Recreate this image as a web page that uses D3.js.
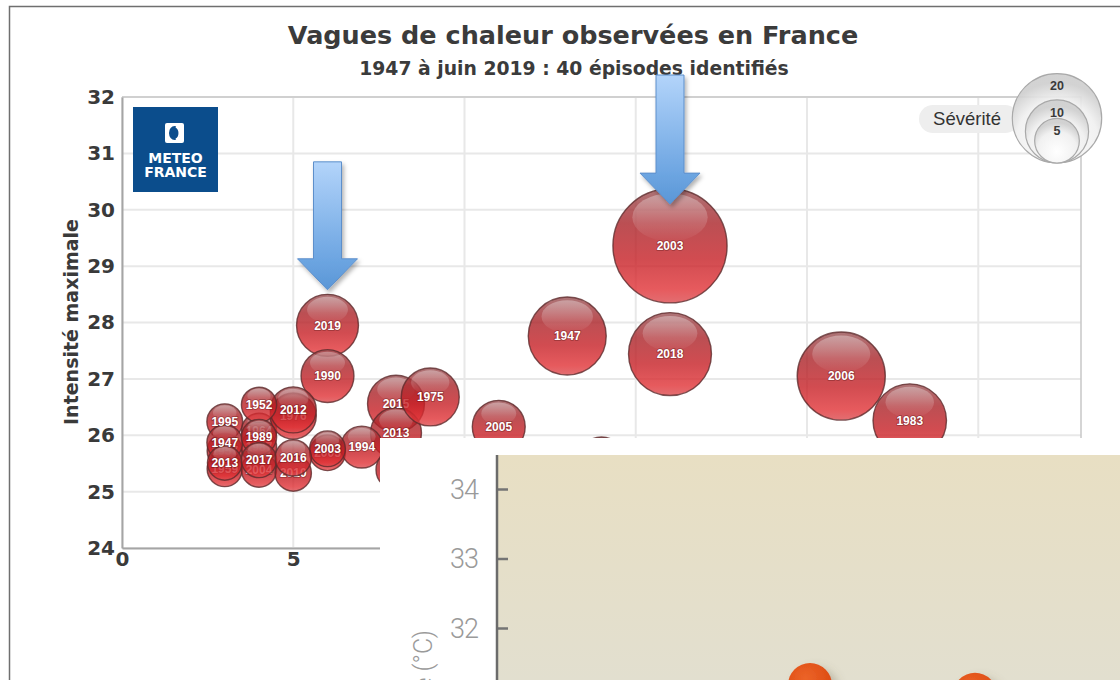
<!DOCTYPE html>
<html>
<head>
<meta charset="utf-8">
<script src="https://cdn.jsdelivr.net/npm/d3@7"></script>
<style>
    html, body { margin: 0; padding: 0; background: #fff; }
    svg { display: block; }
</style>
</head>
<body>
<div id="chart"></div>
<script>
// Heatwaves in France, bubble chart (duration x intensity, size = severity) + a cropped inset chart.
// Episodes. layer 0 = back series (labels get covered), 1 = front series.
var years     = ["1998", "2009", "1959", "1957", "1964", "1987", "2004", "2010", "1976", "2005", "2015", "2013",
                 "2003", "2019", "1990", "1947", "2018", "2006", "1983", "2005", "1975", "1994", "2003", "2012",
                 "1995", "1947", "2013", "1952", "1989", "2017", "2016"];
var duration  = [8, 14, 3, 3, 4, 4, 4, 5, 5, 6, 8, 8,
                 16, 6, 6, 13, 16, 21, 23, 11, 9, 7, 6, 5,
                 3, 3, 3, 4, 4, 4, 5];
var intensity = [25.39, 25.56, 25.40, 25.72, 26.08, 25.79, 25.39, 25.33, 26.34, 25.69, 26.56, 26.04,
                 29.36, 27.95, 27.05, 27.76, 27.44, 27.05, 26.26, 26.15, 26.68, 25.79, 25.76, 26.45,
                 26.24, 25.87, 25.51, 26.54, 25.97, 25.56, 25.60];
var severity  = [4.0, 5.3, 3.1, 3.1, 3.1, 3.1, 3.1, 3.3, 5.3, 3.2, 8.1, 6.5,
                 32.6, 9.6, 7.0, 15.2, 17.2, 19.4, 13.5, 7.0, 8.4, 4.4, 3.2, 5.3,
                 3.2, 3.2, 3.0, 3.1, 3.1, 3.1, 3.3];
var layer     = [0, 0, 0, 0, 0, 0, 0, 0, 0, 0, 0, 0,
                 1, 1, 1, 1, 1, 1, 1, 1, 1, 1, 1, 1,
                 1, 1, 1, 1, 1, 1, 1];

var yTicks = [24, 25, 26, 27, 28, 29, 30, 31, 32];
var xTicks = [0, 5, 10, 15, 20, 25];
var legendSizes = [20, 10, 5];

// arrows pointing at 2019 and 2003 (duration, top value, tip value)
var arrowDur = [6, 16];
var arrowTop = [30.85, 32.39];
var arrowTip = [28.58, 30.10];

// second (cropped) chart overlapping the bottom right
var insetX     = [4, 6];
var insetTemp  = [31.18, 31.04];
var insetTicks = [32, 33, 34];

var W = 1120, H = 680;
var svg = d3.select("#chart").append("svg").attr("width", W).attr("height", H)
    .style("font-family", "'DejaVu Sans', sans-serif");
var defs = svg.append("defs");

var x = d3.scaleLinear().domain([0, 28]).range([122, 1081]);
var y = d3.scaleLinear().domain([24, 32]).range([548, 97]);
var r = d3.scaleSqrt().domain([0, 20]).range([0, 44.7]);

// gradients / filters
function linGrad(id, stops) {
    var g = defs.append("linearGradient").attr("id", id)
        .attr("x1", 0).attr("y1", 0).attr("x2", 0).attr("y2", 1);
    stops.forEach(function (s) {
        g.append("stop").attr("offset", s[0]).attr("stop-color", s[1])
            .attr("stop-opacity", s[2] == null ? 1 : s[2]);
    });
}
linGrad("bub", [[0, "#985255"], [0.3, "#aa2328"], [0.62, "#c61f25"], [0.88, "#e03135"], [1, "#dc4a4e"]]);
linGrad("hl", [[0, "#fff", 0.34], [1, "#fff", 0.02]]);
linGrad("arrow", [[0, "#b3d4fa"], [0.75, "#6ea6e2"], [1, "#5a96d6"]]);
linGrad("beige", [[0, "#e8dfc3"], [1, "#e2dfcf"]]);
var lg = defs.append("radialGradient").attr("id", "legend").attr("cx", "50%").attr("cy", "75%").attr("r", "65%");
lg.append("stop").attr("offset", 0).attr("stop-color", "#ffffff");
lg.append("stop").attr("offset", 0.7).attr("stop-color", "#f0f0f0");
lg.append("stop").attr("offset", 1).attr("stop-color", "#cfcfcf");
var og = defs.append("radialGradient").attr("id", "orange").attr("cx", "40%").attr("cy", "35%").attr("r", "65%");
og.append("stop").attr("offset", 0).attr("stop-color", "#ec6428");
og.append("stop").attr("offset", 1).attr("stop-color", "#dc4912");

var sh = defs.append("filter").attr("id", "shadow").attr("x", "-30%").attr("y", "-30%").attr("width", "160%").attr("height", "160%");
sh.append("feDropShadow").attr("dx", 2).attr("dy", 3).attr("stdDeviation", 2).attr("flood-opacity", 0.3);
var sh2 = defs.append("filter").attr("id", "shadow2").attr("x", "-50%").attr("y", "-50%").attr("width", "200%").attr("height", "200%");
sh2.append("feDropShadow").attr("dx", 6).attr("dy", 5).attr("stdDeviation", 5).attr("flood-color", "#6b6248").attr("flood-opacity", 0.35);

// outer frame of the screenshot
svg.append("path").attr("d", "M9.5," + H + "V6.5H" + W)
    .attr("fill", "none").attr("stroke", "#6f6f6f").attr("stroke-width", 1.5);

// titles
svg.append("text").attr("x", 573).attr("y", 44).attr("text-anchor", "middle")
    .style("font-size", "25.5px").style("font-weight", "bold").style("fill", "#3b3b3b")
    .text("Vagues de chaleur observées en France");
svg.append("text").attr("x", 574).attr("y", 75).attr("text-anchor", "middle")
    .style("font-size", "18.8px").style("font-weight", "bold").style("fill", "#3b3b3b")
    .text("1947 à juin 2019 : 40 épisodes identifiés");

// grid
var grid = svg.append("g");
grid.selectAll("line.gy").data(yTicks).enter().append("line").attr("class", "gy")
    .attr("x1", x(0)).attr("x2", x(28)).attr("y1", function (d) { return y(d); }).attr("y2", function (d) { return y(d); })
    .attr("stroke", "#e8e8e8").attr("stroke-width", 2);
grid.selectAll("line.gx").data(xTicks).enter().append("line").attr("class", "gx")
    .attr("y1", y(24)).attr("y2", y(32)).attr("x1", function (d) { return x(d); }).attr("x2", function (d) { return x(d); })
    .attr("stroke", "#e8e8e8").attr("stroke-width", 2);
svg.append("path").attr("d", "M" + x(0) + "," + y(32) + "H" + x(28) + "V" + y(24))
    .attr("fill", "none").attr("stroke", "#c8c8c8").attr("stroke-width", 1.5);

// axes
var yAxis = svg.append("g").attr("transform", "translate(" + x(0) + ",0)")
    .call(d3.axisLeft(y).tickValues(yTicks).tickSize(0).tickPadding(7));
var xAxis = svg.append("g").attr("transform", "translate(0," + y(24) + ")")
    .call(d3.axisBottom(x).tickValues(xTicks).tickSize(0).tickPadding(4));
[yAxis, xAxis].forEach(function (a) {
    a.select(".domain").attr("stroke", "#a5a5a5").attr("stroke-width", 2);
    a.selectAll("text").style("font-family", "'DejaVu Sans', sans-serif").style("font-size", "20px")
        .style("font-weight", "bold").style("fill", "#3a3a3a");
});
svg.append("text").attr("transform", "translate(78,322) rotate(-90)").attr("text-anchor", "middle")
    .style("font-size", "19px").style("font-weight", "bold").style("fill", "#3a3a3a")
    .text("Intensité maximale");

// Météo-France logo
var logo = svg.append("g");
logo.append("rect").attr("x", 133).attr("y", 107).attr("width", 85).attr("height", 85).attr("fill", "#0b4d8c");
logo.append("rect").attr("x", 165).attr("y", 123).attr("width", 19).attr("height", 20).attr("rx", 2).attr("fill", "#fff");
logo.append("ellipse").attr("cx", 174.5).attr("cy", 133).attr("rx", 5.5).attr("ry", 7).attr("fill", "#0b4d8c");
logo.append("path").attr("d", "M176,126.5 A5.5,7 0 0 1 176,139.5").attr("fill", "none").attr("stroke", "#fff").attr("stroke-width", 2);
logo.append("text").attr("x", 175.5).attr("y", 163).attr("text-anchor", "middle")
    .style("font-size", "14px").style("font-weight", "bold").style("fill", "#fff").text("METEO");
logo.append("text").attr("x", 175.5).attr("y", 177).attr("text-anchor", "middle")
    .style("font-size", "14px").style("font-weight", "bold").style("fill", "#fff").text("FRANCE");

// bubbles
var points = years.map(function (yr, i) {
    return { year: yr, dur: duration[i], val: intensity[i], sev: severity[i], layer: layer[i] };
});

function drawLayer(k) {
    var pts = points.filter(function (p) { return p.layer === k; });
    var g = svg.append("g");
    var b = g.selectAll("g.b").data(pts).enter().append("g").attr("class", "b")
        .attr("transform", function (d) { return "translate(" + x(d.dur) + "," + y(d.val) + ")"; });
    b.append("circle").attr("r", function (d) { return r(d.sev); })
        .attr("fill", "url(#bub)").attr("fill-opacity", 0.8)
        .attr("stroke", "#5e2a2c").attr("stroke-width", 1.4).attr("stroke-opacity", 0.8);
    b.append("ellipse")
        .attr("cy", function (d) { return -0.5 * r(d.sev); })
        .attr("rx", function (d) { return 0.66 * r(d.sev); })
        .attr("ry", function (d) { return 0.42 * r(d.sev); })
        .attr("fill", "url(#hl)");
    g.selectAll("text").data(pts).enter().append("text")
        .attr("x", function (d) { return x(d.dur); }).attr("y", function (d) { return y(d.val); })
        .attr("dy", "0.36em").attr("text-anchor", "middle")
        .style("font-family", "'Liberation Sans', Arial, sans-serif").style("font-size", "12px")
        .style("font-weight", "bold").style("fill", "#fff")
        .style("paint-order", "stroke").style("stroke", "rgba(60,0,0,0.35)").style("stroke-width", "1.6px")
        .text(function (d) { return d.year; });
}
drawLayer(0);
drawLayer(1);

// arrows
var sw = 14, hw = 30, hl = 31;
svg.selectAll("path.arrow").data(arrowDur).enter().append("path").attr("class", "arrow")
    .attr("d", function (d, i) {
        var cx = x(d), t = y(arrowTop[i]), p = y(arrowTip[i]);
        return "M" + (cx - sw) + "," + t + "H" + (cx + sw) + "V" + (p - hl) + "H" + (cx + hw) +
            "L" + cx + "," + p + "L" + (cx - hw) + "," + (p - hl) + "H" + (cx - sw) + "Z";
    })
    .attr("fill", "url(#arrow)").attr("stroke", "#5d8fcb").attr("stroke-width", 1)
    .attr("filter", "url(#shadow)");

// severity legend
var lcx = 1057, lbottom = 163;
svg.append("rect").attr("x", 919).attr("y", 105).attr("width", 100).attr("height", 28).attr("rx", 14)
    .attr("fill", "#eeeeee");
svg.append("text").attr("x", 967).attr("y", 119).attr("dy", "0.35em").attr("text-anchor", "middle")
    .style("font-family", "'Liberation Sans', Arial, sans-serif").style("font-size", "18.5px").style("fill", "#333")
    .text("Sévérité");
var leg = svg.append("g");
leg.selectAll("circle").data(legendSizes).enter().append("circle")
    .attr("cx", lcx).attr("cy", function (d) { return lbottom - r(d); }).attr("r", function (d) { return r(d); })
    .attr("fill", "url(#legend)").attr("fill-opacity", 0.92)
    .attr("stroke", "#a9a9a9").attr("stroke-width", 1.2);
leg.selectAll("text").data(legendSizes).enter().append("text")
    .attr("x", lcx).attr("y", function (d) { return lbottom - 2 * r(d) + 12.5; }).attr("dy", "0.35em")
    .attr("text-anchor", "middle")
    .style("font-family", "'Liberation Sans', Arial, sans-serif").style("font-size", "12.5px")
    .style("font-weight", "bold").style("fill", "#3a3a3a")
    .text(function (d) { return d; });

// inset chart (second screenshot laid over the first)
var ix = d3.scaleLinear().domain([0, 8]).range([480, 1140]);
var iy = d3.scaleLinear().domain([32, 34]).range([628, 489]);
var inset = svg.append("g");
inset.append("rect").attr("x", 380).attr("y", 438).attr("width", W - 380).attr("height", H - 438).attr("fill", "#fff");
inset.append("rect").attr("x", 497).attr("y", 455).attr("width", W - 497).attr("height", H - 455).attr("fill", "url(#beige)");
inset.selectAll("circle").data(insetX).enter().append("circle")
    .attr("cx", function (d) { return ix(d); }).attr("cy", function (d, i) { return iy(insetTemp[i]); })
    .attr("r", 22).attr("fill", "url(#orange)").attr("filter", "url(#shadow2)");
var ia = inset.append("g").attr("transform", "translate(497,0)")
    .call(d3.axisRight(iy).tickValues(insetTicks).tickSize(11).tickFormat(""));
ia.select(".domain").remove();
ia.selectAll("line").attr("stroke", "#747474").attr("stroke-width", 2.5);
inset.append("line").attr("x1", 497).attr("x2", 497).attr("y1", 455).attr("y2", H)
    .attr("stroke", "#6b6b6b").attr("stroke-width", 2.5);
inset.selectAll("text.it").data(insetTicks).enter().append("text").attr("class", "it")
    .attr("x", 478).attr("y", function (d) { return iy(d); }).attr("dy", "0.36em").attr("text-anchor", "end")
    .style("font-family", "Roboto, 'Open Sans', sans-serif").style("font-weight", 300)
    .style("font-size", "27px").style("letter-spacing", "-1px").style("fill", "#9a9a9a")
    .text(function (d) { return d; });
inset.append("text").attr("transform", "translate(432,630) rotate(-90)").attr("text-anchor", "end")
    .style("font-family", "Roboto, 'Open Sans', sans-serif").style("font-weight", 300)
    .style("font-size", "25px").style("fill", "#9a9a9a")
    .text("Température (°C)");
</script>
</body>
</html>
